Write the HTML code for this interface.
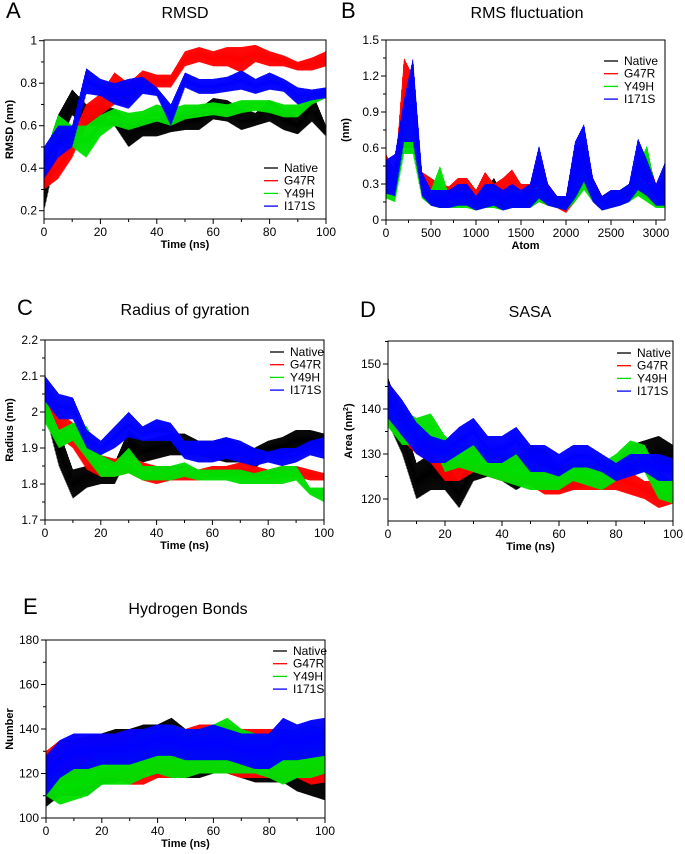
<!DOCTYPE html>
<html><head><meta charset="utf-8">
<style>
html,body{margin:0;padding:0;background:#fff;}
svg{display:block;font-family:"Liberation Sans",Arial,sans-serif;}
</style></head>
<body>
<svg id="fig" width="685" height="854" viewBox="0 0 685 854"></svg>
<script>
// ---------- DATA (lo/hi envelopes of each noisy trace) ----------
const timeNs = [0,5,10,15,20,25,30,35,40,45,50,55,60,65,70,75,80,85,90,95,100];
const seriesNames = ["Native","G47R","Y49H","I171S"];
const seriesColors = ["#000000","#ff0000","#00e000","#0000ff"];

// A: RMSD (nm)
const rmsdNativeLo = [.20,.50,.65,.60,.60,.60,.50,.55,.55,.57,.58,.58,.63,.62,.58,.60,.62,.58,.56,.62,.55];
const rmsdNativeHi = [.45,.65,.77,.70,.70,.68,.62,.63,.63,.65,.66,.68,.73,.72,.68,.66,.72,.68,.64,.76,.60];
const rmsdG47RLo = [.30,.35,.45,.60,.65,.70,.70,.78,.78,.78,.88,.90,.88,.88,.85,.90,.88,.88,.86,.86,.88];
const rmsdG47RHi = [.40,.45,.55,.70,.75,.85,.80,.86,.84,.84,.95,.97,.95,.97,.97,.98,.95,.93,.90,.92,.95];
const rmsdY49HLo = [.35,.50,.50,.45,.55,.60,.58,.60,.62,.60,.63,.64,.65,.64,.66,.67,.66,.64,.64,.70,.73];
const rmsdY49HHi = [.45,.65,.60,.60,.65,.68,.66,.67,.70,.68,.70,.70,.71,.70,.72,.72,.72,.70,.70,.75,.78];
const rmsdI171SLo = [.35,.45,.50,.75,.74,.70,.68,.75,.74,.60,.78,.75,.75,.76,.77,.75,.77,.76,.70,.72,.73];
const rmsdI171SHi = [.50,.60,.60,.87,.82,.80,.82,.83,.78,.70,.85,.82,.82,.83,.86,.82,.85,.82,.78,.77,.78];

// B: RMS fluctuation (nm) per atom
const atomIdx = [0,100,200,300,400,500,600,700,800,900,1000,1100,1200,1300,1400,1500,1600,1700,1800,1900,2000,2100,2200,2300,2400,2500,2600,2700,2800,2900,3000,3100];
const rmsfNativeLo = [.25,.20,.60,.60,.20,.12,.10,.10,.12,.12,.08,.10,.12,.08,.10,.10,.10,.15,.12,.10,.08,.15,.30,.15,.08,.10,.12,.15,.25,.20,.12,.12];
const rmsfNativeHi = [.50,.35,1.10,1.30,.35,.20,.20,.20,.25,.30,.20,.25,.35,.20,.30,.25,.25,.45,.25,.20,.15,.40,.55,.30,.15,.20,.25,.30,.50,.40,.25,.25];
const rmsfG47RLo = [.25,.22,.65,.60,.22,.14,.10,.10,.14,.14,.08,.12,.14,.10,.12,.10,.12,.15,.12,.10,.06,.15,.30,.15,.08,.10,.12,.15,.22,.18,.12,.15];
const rmsfG47RHi = [.55,.40,1.35,1.20,.40,.35,.30,.28,.35,.35,.25,.40,.30,.35,.42,.30,.30,.55,.30,.20,.20,.60,.65,.35,.20,.25,.25,.30,.45,.55,.30,.35];
const rmsfY49HLo = [.18,.15,.55,.55,.18,.12,.10,.10,.10,.10,.08,.10,.10,.08,.10,.10,.10,.15,.12,.10,.08,.15,.25,.15,.08,.10,.12,.15,.20,.15,.10,.10];
const rmsfY49HHi = [.40,.30,.95,.85,.35,.25,.45,.20,.25,.25,.20,.25,.25,.20,.25,.25,.20,.40,.25,.20,.15,.35,.45,.30,.15,.25,.25,.30,.45,.62,.25,.25];
const rmsfI171SLo = [.22,.20,.65,.65,.20,.12,.10,.10,.12,.12,.08,.10,.12,.08,.10,.10,.10,.18,.12,.10,.08,.18,.32,.15,.08,.10,.12,.15,.25,.20,.12,.12];
const rmsfI171SHi = [.50,.55,1.00,1.35,.40,.25,.25,.25,.30,.30,.20,.30,.30,.25,.30,.25,.30,.62,.30,.20,.20,.65,.80,.35,.20,.25,.25,.30,.68,.50,.30,.48];

// C: Radius of gyration (nm)
const rgNativeLo = [2.00,1.85,1.76,1.79,1.80,1.80,1.88,1.86,1.87,1.88,1.88,1.88,1.87,1.86,1.86,1.84,1.88,1.88,1.89,1.90,1.90];
const rgNativeHi = [2.10,1.95,1.84,1.85,1.87,1.86,1.95,1.92,1.93,1.94,1.94,1.92,1.92,1.93,1.91,1.90,1.92,1.93,1.95,1.95,1.94];
const rgG47RLo = [2.00,1.93,1.90,1.84,1.82,1.82,1.83,1.81,1.80,1.81,1.81,1.81,1.82,1.82,1.82,1.82,1.81,1.82,1.82,1.81,1.81];
const rgG47RHi = [2.10,2.00,1.97,1.92,1.88,1.87,1.88,1.86,1.85,1.85,1.85,1.84,1.85,1.85,1.86,1.85,1.84,1.85,1.85,1.84,1.83];
const rgY49HLo = [1.97,1.90,1.92,1.87,1.82,1.82,1.83,1.81,1.81,1.81,1.82,1.81,1.81,1.81,1.80,1.80,1.80,1.80,1.81,1.77,1.75];
const rgY49HHi = [2.04,1.95,1.97,1.96,1.88,1.86,1.90,1.85,1.85,1.85,1.86,1.84,1.84,1.84,1.84,1.83,1.84,1.85,1.85,1.79,1.79];
const rgI171SLo = [2.03,1.98,1.98,1.90,1.88,1.90,1.93,1.92,1.92,1.92,1.87,1.86,1.86,1.87,1.86,1.85,1.86,1.85,1.86,1.88,1.87];
const rgI171SHi = [2.10,2.05,2.04,1.95,1.92,1.96,2.00,1.96,1.98,1.97,1.92,1.92,1.92,1.93,1.92,1.90,1.89,1.90,1.90,1.92,1.93];

// D: SASA (nm^2)
const sasaNativeLo = [137,130,120,122,122,118,124,125,124,122,124,123,122,122,123,122,124,126,127,126,126];
const sasaNativeHi = [147,138,128,130,128,124,130,130,129,128,132,131,127,128,128,126,128,132,133,134,132];
const sasaG47RLo = [138,133,130,128,124,124,126,125,124,124,123,121,121,122,122,122,122,121,120,118,119];
const sasaG47RHi = [146,140,137,134,130,129,132,129,130,130,129,127,126,127,128,127,127,126,124,124,124];
const sasaY49HLo = [136,132,132,133,126,127,126,125,124,123,122,122,122,124,123,122,124,127,126,120,119];
const sasaY49HHi = [144,140,138,139,134,132,132,131,130,130,128,127,126,128,128,128,130,133,132,126,124];
const sasaI171SLo = [138,134,130,128,128,130,132,128,128,130,126,126,125,127,127,126,124,125,126,124,124];
const sasaI171SHi = [146,142,137,134,133,136,138,134,134,136,132,132,130,132,132,130,128,130,130,130,129];

// E: Hydrogen bonds (count)
const hbNativeLo = [105,110,110,110,115,116,118,120,118,120,118,118,120,120,118,116,116,116,112,110,108];
const hbNativeHi = [125,130,132,135,138,140,140,142,142,145,140,140,142,142,140,138,138,140,138,140,138];
const hbG47RLo = [110,115,115,115,118,118,115,115,118,118,118,120,120,120,118,118,118,118,118,115,116];
const hbG47RHi = [130,135,135,137,138,138,140,140,140,142,140,142,142,142,140,140,140,140,140,138,138];
const hbY49HLo = [110,106,108,110,115,115,115,118,120,118,118,120,120,120,120,120,118,115,118,118,120];
const hbY49HHi = [122,120,122,125,130,130,135,140,140,142,140,140,142,145,140,138,138,140,140,142,140];
const hbI171SLo = [110,118,122,122,124,124,124,126,128,128,126,126,126,126,124,122,122,126,126,127,128];
const hbI171SHi = [128,135,138,138,138,138,140,140,142,142,140,140,142,140,138,138,138,145,142,144,145];

const xTicksTime = [0,20,40,60,80,100];
const xTicksAtom = [0,500,1000,1500,2000,2500,3000];
const yTicksA = [0.2,0.4,0.6,0.8,1];
const yTicksB = [0,0.3,0.6,0.9,1.2,1.5];
const yTicksC = [1.7,1.8,1.9,2,2.1,2.2];
const yTicksD = [120,130,140,150];
const yTicksE = [100,120,140,160,180];

// ---------- RENDER ----------
const NS="http://www.w3.org/2000/svg";
const svg=document.getElementById('fig');
function mk(tag,attrs,parent){const e=document.createElementNS(NS,tag);for(const k in attrs)e.setAttribute(k,attrs[k]);(parent||svg).appendChild(e);return e;}
function txt(s,x,y,size,anchor,weight,parent,name){const t=mk('text',{x:x,y:y,'font-size':size,'text-anchor':anchor||'start','font-weight':weight||'normal',fill:'#000'},parent);t.textContent=s;


return t;}

function panel(cfg){
  const g=mk('g',{});
  
  
  const X=v=>cfg.x0+(v-cfg.xmin)/(cfg.xmax-cfg.xmin)*(cfg.x1-cfg.x0);
  const Y=v=>cfg.ya+(v-cfg.va)/(cfg.vb-cfg.va)*(cfg.yb-cfg.ya);
  txt(cfg.letter,cfg.lx,cfg.ly,22,'start','normal',g,'panel-letter');
  txt(cfg.title,cfg.tx,cfg.ty,16,'middle','normal',g,'panel-title');
  const clip=mk('clipPath',{id:'clip'+cfg.letter},g);
  mk('rect',{x:cfg.x0,y:cfg.top,width:cfg.x1-cfg.x0,height:cfg.bot-cfg.top},clip);
  const tg=mk('g',{'clip-path':'url(#clip'+cfg.letter+')'},g);
  cfg.series.forEach((s,si)=>{
    const xs=cfg.xs, lo=s[0], hi=s[1];
    let top=[], bottom=[], zig='', flip=0;
    const px0=X(xs[0]), px1=X(xs[xs.length-1]);
    for(let px=px0;px<=px1+0.01;px+=0.5){
      const v=cfg.xmin+(px-cfg.x0)/(cfg.x1-cfg.x0)*(cfg.xmax-cfg.xmin);
      let i=0;while(i<xs.length-2&&xs[i+1]<v)i++;
      const f=Math.min(1,Math.max(0,(v-xs[i])/(xs[i+1]-xs[i])));
      const l=lo[i]+(lo[i+1]-lo[i])*f, h=hi[i]+(hi[i+1]-hi[i])*f;
      top.push(px.toFixed(1)+','+Y(h).toFixed(1));
      bottom.unshift(px.toFixed(1)+','+Y(l).toFixed(1));
      const val=flip? h : l; flip=1-flip;
      zig+=(zig?'L':'M')+px.toFixed(1)+','+Y(val).toFixed(1);
    }
    const sg=mk('g',{},tg);
    
    
    mk('polygon',{points:top.concat(bottom).join(' '),fill:seriesColors[si],'fill-opacity':0.85,stroke:'none'},sg);
    mk('path',{d:zig,fill:'none',stroke:seriesColors[si],'stroke-width':0.5},sg);
  });
  const fr=mk('rect',{x:cfg.x0,y:cfg.top,width:cfg.x1-cfg.x0,height:cfg.bot-cfg.top,fill:'none',stroke:'#000','stroke-width':1},g);
  
  
  cfg.xt.forEach((v,i)=>{
    mk('line',{x1:X(v),x2:X(v),y1:cfg.bot,y2:cfg.bot+5,stroke:'#000'},g);
    if(i<cfg.xt.length-1){const m=(v+cfg.xt[i+1])/2;mk('line',{x1:X(m),x2:X(m),y1:cfg.bot,y2:cfg.bot+3,stroke:'#000'},g);}
    txt(String(v),X(v),cfg.bot+17,12,'middle','normal',g,'x-tick-label');
  });
  txt(cfg.xlabel,(cfg.x0+cfg.x1)/2,cfg.bot+29,11,'middle','bold',g,'x-axis-title');
  cfg.yt.forEach((v,i)=>{
    mk('line',{x1:cfg.x0-5,x2:cfg.x0,y1:Y(v),y2:Y(v),stroke:'#000'},g);
    if(i<cfg.yt.length-1){const m=(v+cfg.yt[i+1])/2;mk('line',{x1:cfg.x0-3,x2:cfg.x0,y1:Y(m),y2:Y(m),stroke:'#000'},g);}
    txt(cfg.fmt?cfg.fmt(v):String(v),cfg.x0-7,Y(v)+4,12,'end','normal',g,'y-tick-label');
  });
  if(cfg.yminor){cfg.yminor.forEach(v=>mk('line',{x1:cfg.x0-3,x2:cfg.x0,y1:Y(v),y2:Y(v),stroke:'#000'},g));}
  const yl=mk('text',{x:0,y:0,'font-size':11,'font-weight':'bold','text-anchor':'middle',transform:`translate(${cfg.ylx},${(cfg.top+cfg.bot)/2}) rotate(-90)`},g);
  
  
  yl.innerHTML=cfg.ylabel;
  seriesNames.forEach((n,i)=>{
    const yy=cfg.legY+i*12.7;
    const le=mk('g',{},g);
    
    
    mk('line',{x1:cfg.legX,x2:cfg.legX+14,y1:yy,y2:yy,stroke:seriesColors[i],'stroke-width':1.3},le);
    txt(n,cfg.legX+20,yy+4,12,'start','normal',le,'legend-label');
  });
}

panel({name:'panel-a-rmsd',letter:'A',lx:6,ly:18,title:'RMSD',tx:185,ty:18,
  x0:44,x1:326,xmin:0,xmax:100,top:40,bot:219,ya:40.7,va:1,yb:210.7,vb:0.2,
  xs:timeNs,series:[[rmsdNativeLo,rmsdNativeHi],[rmsdG47RLo,rmsdG47RHi],[rmsdY49HLo,rmsdY49HHi],[rmsdI171SLo,rmsdI171SHi]],
  xt:xTicksTime,yt:yTicksA,xlabel:'Time (ns)',ylabel:'RMSD (nm)',ylx:13,legX:264,legY:168});
panel({name:'panel-b-rmsf',letter:'B',lx:341,ly:18,title:'RMS fluctuation',tx:527,ty:18,
  x0:386,x1:665,xmin:0,xmax:3000*(665-386)/(656-386),top:40,bot:220,ya:40,va:1.5,yb:220,vb:0,
  xs:atomIdx,series:[[rmsfNativeLo,rmsfNativeHi],[rmsfG47RLo,rmsfG47RHi],[rmsfY49HLo,rmsfY49HHi],[rmsfI171SLo,rmsfI171SHi]],
  xt:xTicksAtom,yt:yTicksB,fmt:v=>v===0?'0':v.toFixed(1),xlabel:'Atom',ylabel:'(nm)',ylx:349,legX:604,legY:61});
panel({name:'panel-c-radius-of-gyration',letter:'C',lx:17,ly:315,title:'Radius of gyration',tx:185,ty:315,
  x0:45,x1:324,xmin:0,xmax:100,top:340,bot:520,ya:340,va:2.2,yb:520,vb:1.7,
  xs:timeNs,series:[[rgNativeLo,rgNativeHi],[rgG47RLo,rgG47RHi],[rgY49HLo,rgY49HHi],[rgI171SLo,rgI171SHi]],
  xt:xTicksTime,yt:yTicksC,fmt:v=>(Math.round(v*10)/10).toString(),xlabel:'Time (ns)',ylabel:'Radius (nm)',ylx:13,legX:270,legY:352});
panel({name:'panel-d-sasa',letter:'D',lx:360,ly:317,title:'SASA',tx:530,ty:317,
  x0:388,x1:673,xmin:0,xmax:100,top:341,bot:521,ya:364,va:150,yb:499,vb:120,
  xs:timeNs,series:[[sasaNativeLo,sasaNativeHi],[sasaG47RLo,sasaG47RHi],[sasaY49HLo,sasaY49HHi],[sasaI171SLo,sasaI171SHi]],
  xt:xTicksTime,yt:yTicksD,yminor:[145,155],xlabel:'Time (ns)',ylabel:'Area (nm<tspan font-size="7" dy="-4">2</tspan><tspan dy="4">)</tspan>',ylx:352,legX:617,legY:353});
panel({name:'panel-e-hydrogen-bonds',letter:'E',lx:23,ly:614,title:'Hydrogen Bonds',tx:188,ty:614,
  x0:46,x1:325,xmin:0,xmax:100,top:640,bot:818,ya:640,va:180,yb:818,vb:100,
  xs:timeNs,series:[[hbNativeLo,hbNativeHi],[hbG47RLo,hbG47RHi],[hbY49HLo,hbY49HHi],[hbI171SLo,hbI171SHi]],
  xt:xTicksTime,yt:yTicksE,xlabel:'Time (ns)',ylabel:'Number',ylx:13,legX:273,legY:651});
</script>
</body></html>
